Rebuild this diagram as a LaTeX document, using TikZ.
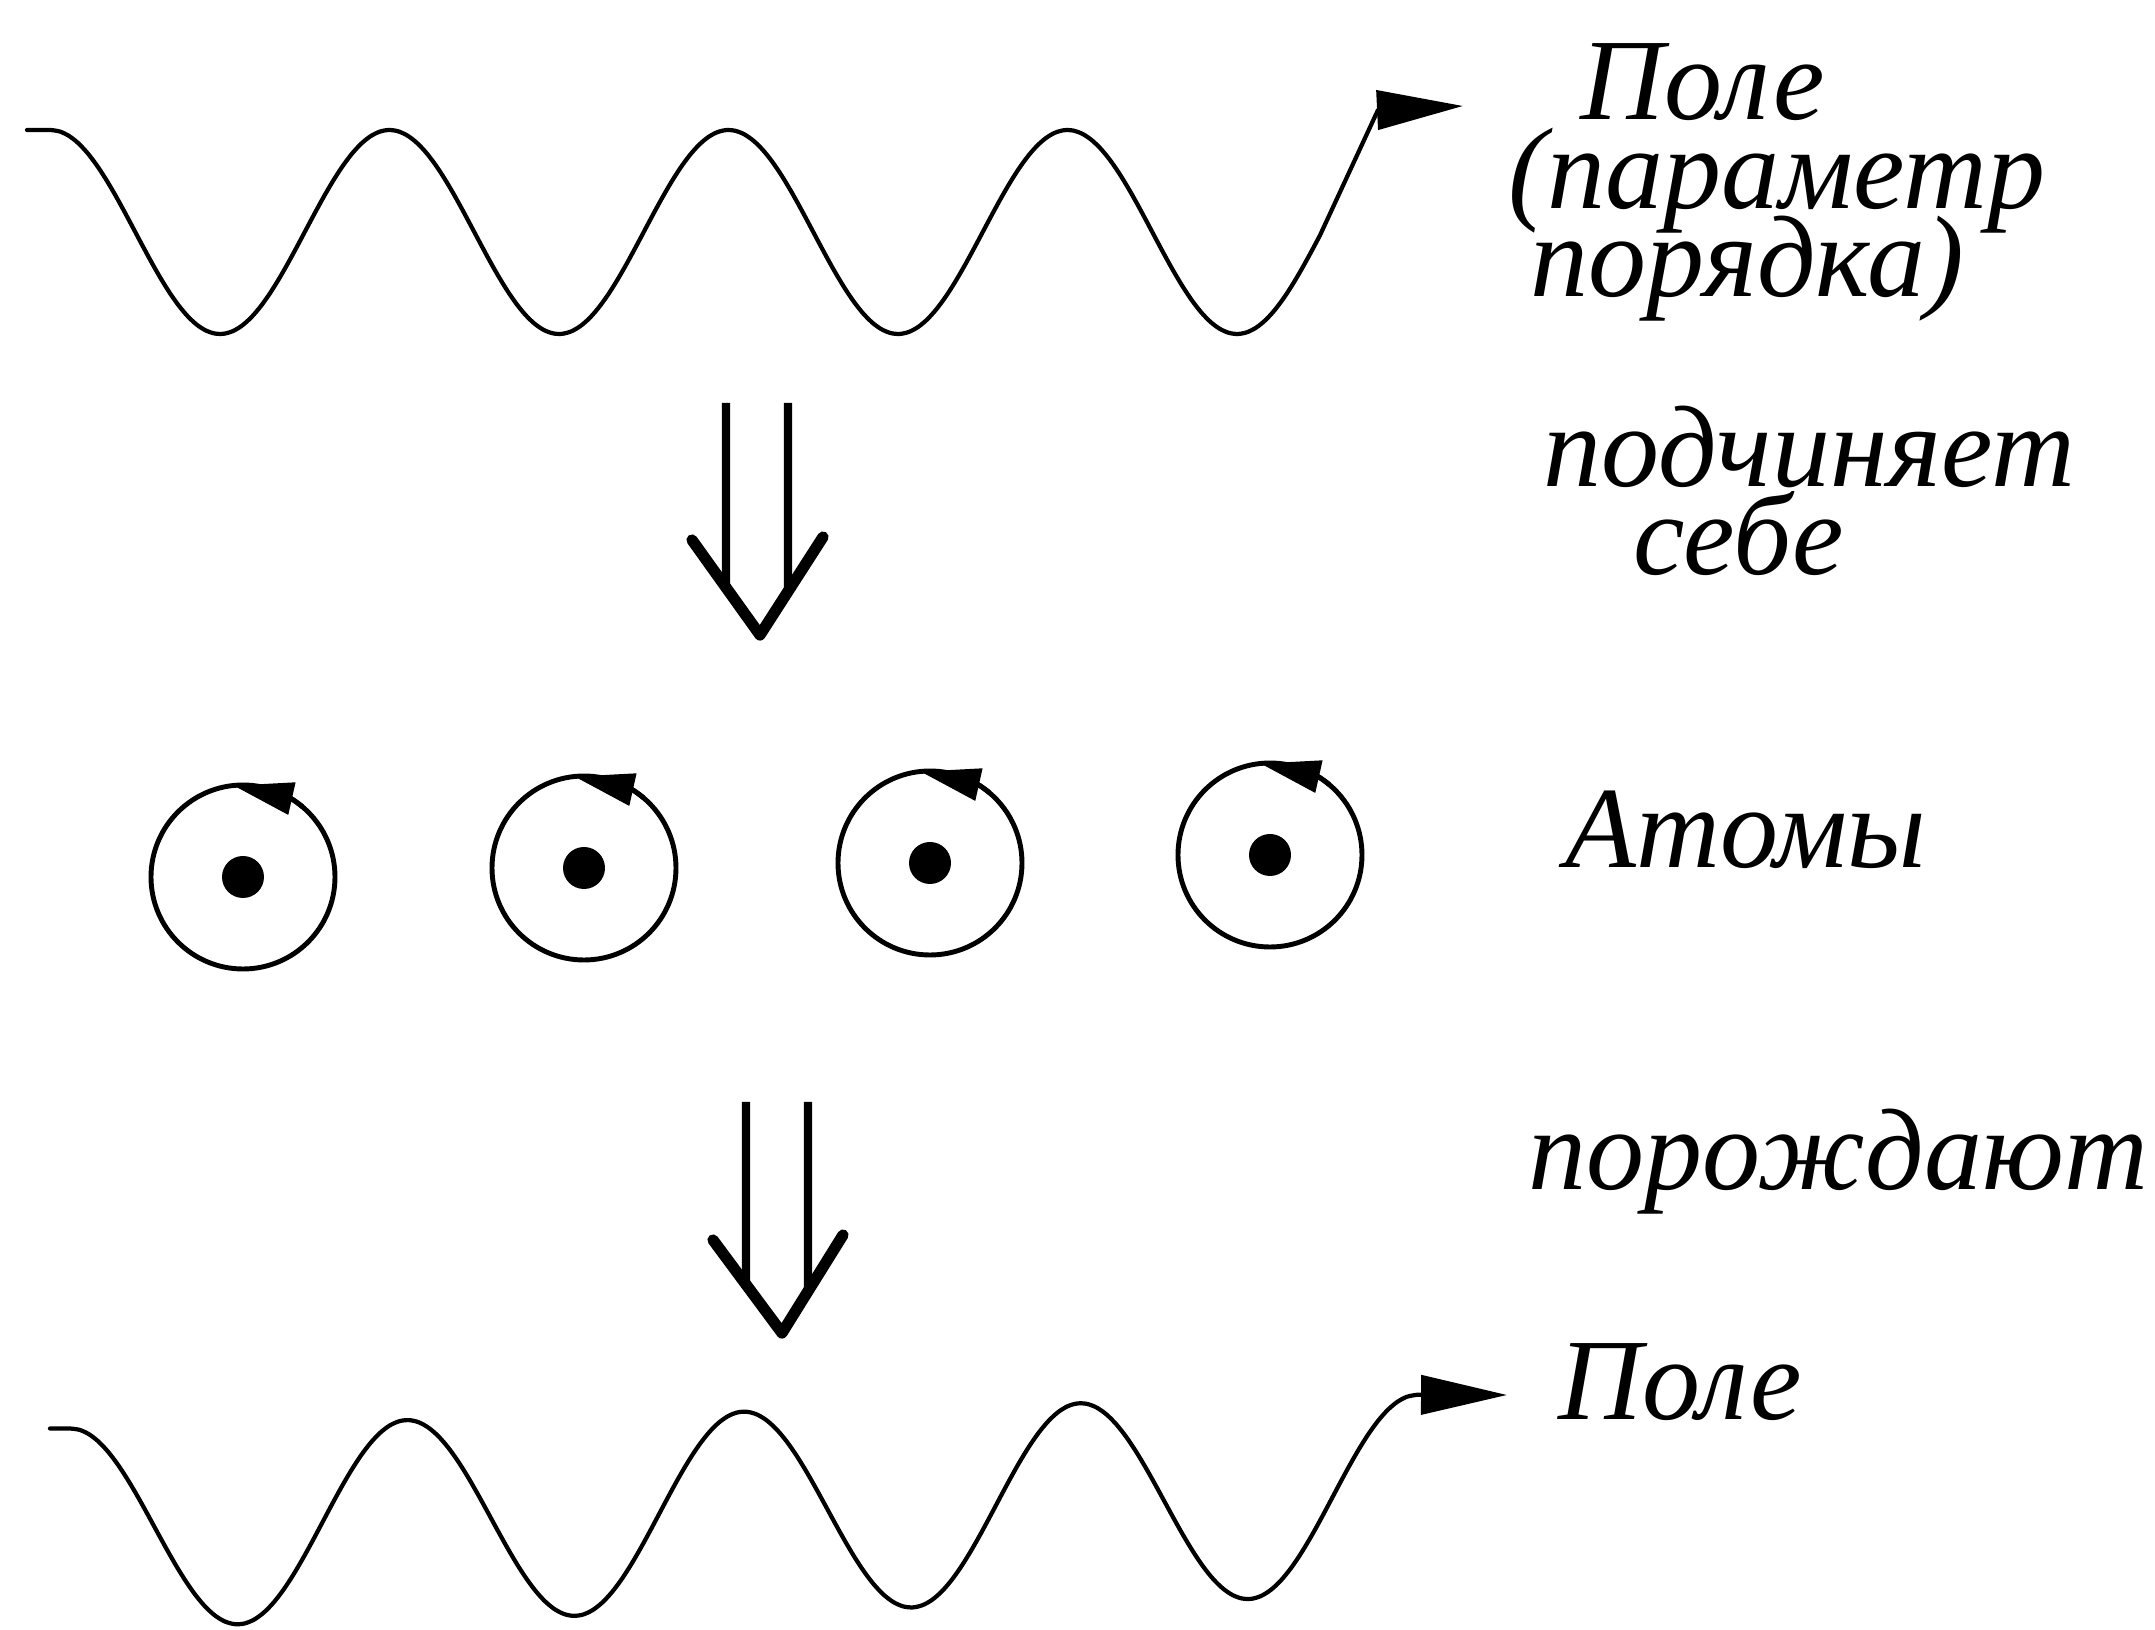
\documentclass[tikz,border=0pt]{standalone}
\usepackage{fontspec}
\newfontfamily\labelfont{Liberation Serif}
\usetikzlibrary{arrows.meta,bending}
\lineskiplimit=-100pt

\begin{document}
\begin{tikzpicture}[line cap=round,line join=round,x=1cm,y=1cm,
  wave/.style={line width=1.2pt},
  lbl/.style={font=\labelfont\itshape\fontsize{33}{25.3}\selectfont,anchor=base west,inner sep=0pt,align=left},
  shaft/.style={line width=2.4pt,line cap=butt},
  vhead/.style={line width=3.2pt},
  atom/.style={circle,draw,line width=1.4pt,minimum size=18.4mm,inner sep=0pt,outer sep=0pt},
  nucleus/.style={circle,fill,minimum size=4.2mm,inner sep=0pt},
  spin/.style={line width=1.4pt,-{Triangle[length=6mm,width=3.2mm]}}]
\useasboundingbox (0,0) rectangle (21.55,16.30);
% field above
\draw[wave,-{Triangle[length=8.6mm,width=3.9mm]}] (0.27,15.0) -- plot[domain=0.505:13.2,samples=140,smooth] (\x,{13.98+1.02*cos(360*(\x-0.505)/3.39)}) -- (13.78,15.2) -- (14.63,15.24);
\node[lbl] (field) at (15.08,13.33) {\kern7.2mm Поле\\(параметр\\\kern2.2mm порядка)};
% subdues
\coordinate (top1) at (7.58,12.27);
\coordinate (tip1) at (7.60,9.95);
\draw[shaft] ([xshift=-3.2mm]top1) -- ([shift={(-0.34,0.45)}]tip1);
\draw[shaft] ([xshift=3.0mm]top1) -- ([shift={(0.28,0.45)}]tip1);
\draw[vhead] ([shift={(-0.68,0.95)}]tip1) -- (tip1) -- ([shift={(0.63,0.98)}]tip1);
\node[lbl] (subdue) at (15.43,10.55) {подчиняет\\\kern9mm себе};
% atoms
\node[atom] (atom1) at (2.43,7.53) {};
\node[nucleus] (nuc1) at (atom1) {};
\draw[spin] (atom1.50) arc[start angle=50,end angle=96,radius=0.92];
\node[atom] (atom2) at (5.84,7.62) {};
\node[nucleus] (nuc2) at (atom2) {};
\draw[spin] (atom2.50) arc[start angle=50,end angle=96,radius=0.92];
\node[atom] (atom3) at (9.30,7.67) {};
\node[nucleus] (nuc3) at (atom3) {};
\draw[spin] (atom3.50) arc[start angle=50,end angle=96,radius=0.92];
\node[atom] (atom4) at (12.70,7.75) {};
\node[nucleus] (nuc4) at (atom4) {};
\draw[spin] (atom4.50) arc[start angle=50,end angle=96,radius=0.92];
\node[lbl] (atoms) at (15.65,7.62) {Атомы};
% produce
\coordinate (top2) at (7.78,5.28);
\coordinate (tip2) at (7.82,2.97);
\draw[shaft] ([xshift=-3.2mm]top2) -- ([shift={(-0.36,0.45)}]tip2);
\draw[shaft] ([xshift=3.0mm]top2) -- ([shift={(0.26,0.45)}]tip2);
\draw[vhead] ([shift={(-0.69,0.93)}]tip2) -- (tip2) -- ([shift={(0.61,0.98)}]tip2);
\node[lbl] (produce) at (15.28,4.40) {порождают};
% field below
\draw[wave,-{Triangle[length=8.6mm,width=3.9mm]}] (0.50,2.015) -- plot[domain=0.70:14.168,samples=140,smooth] (\x,{1.185+0.025*(\x-7.5)+1.0*cos(360*(\x-0.70)/3.367)}) -- (15.07,2.35);
\node[lbl] (field2) at (15.58,2.10) {Поле};
\end{tikzpicture}
\end{document}
